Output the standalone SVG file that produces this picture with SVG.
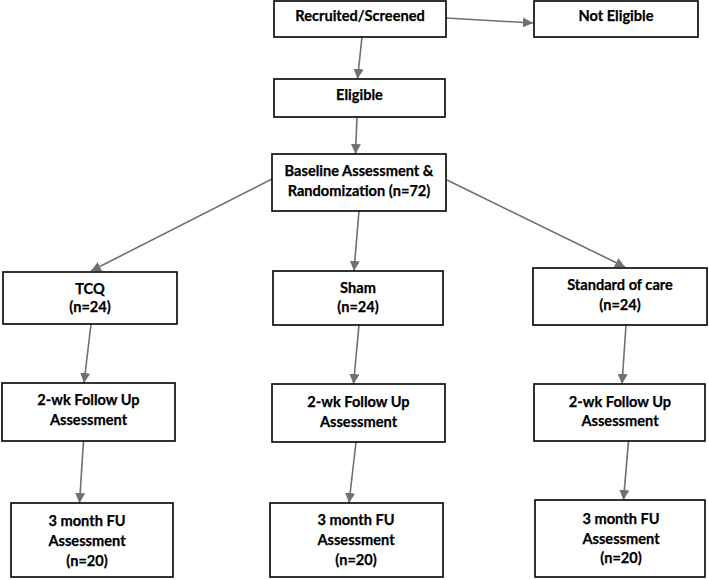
<svg xmlns="http://www.w3.org/2000/svg" width="709" height="580" viewBox="0 0 709 580">
<style>
.box{fill:#fff;stroke:#000;stroke-width:1.6}
.t{font-family:Lato,"Liberation Sans",sans-serif;font-weight:bold;font-size:14.6px;fill:#000;text-anchor:middle;stroke:#000;stroke-width:0.25}
.c{stroke:#707070;stroke-width:1.6;fill:none;marker-end:url(#ah)}
</style>
<defs>
<marker id="ah" markerUnits="userSpaceOnUse" markerWidth="10" markerHeight="10" refX="10" refY="5" orient="auto">
<path d="M0,0 L10,5 L0,10 z" fill="#707070"/>
</marker>
</defs>
<rect width="709" height="580" fill="#fff"/>
<g id="connectors">
<line class="c" x1="446" y1="18" x2="533" y2="23"/>
<line class="c" x1="362" y1="37" x2="357.5" y2="79"/>
<line class="c" x1="357" y1="117" x2="355.5" y2="154"/>
<line class="c" x1="272" y1="179" x2="91" y2="271"/>
<line class="c" x1="359" y1="211" x2="354" y2="271"/>
<line class="c" x1="447" y1="180" x2="625" y2="267"/>
<line class="c" x1="91" y1="324" x2="84" y2="383"/>
<line class="c" x1="359" y1="325" x2="353.5" y2="384"/>
<line class="c" x1="626" y1="325" x2="622" y2="384"/>
<line class="c" x1="83.5" y1="441" x2="79.5" y2="503"/>
<line class="c" x1="356" y1="442" x2="349" y2="503"/>
<line class="c" x1="628.5" y1="441" x2="623.5" y2="500"/>
</g>
<g id="recruited"><rect class="box" x="274" y="1" width="172" height="36"/><text class="t" x="360" y="21">Recruited/Screened</text></g>
<g id="not-eligible"><rect class="box" x="534" y="1" width="164" height="36"/><text class="t" x="616" y="21">Not Eligible</text></g>
<g id="eligible"><rect class="box" x="274" y="79" width="171" height="38"/><text class="t" x="359.5" y="100">Eligible</text></g>
<g id="baseline"><rect class="box" x="272" y="154" width="174" height="57"/><text class="t" x="359" y="175.5">Baseline Assessment &amp;</text><text class="t" x="359" y="195.5">Randomization (n=72)</text></g>
<g id="tcq"><rect class="box" x="3" y="272" width="174" height="52"/><text class="t" x="90" y="293.5">TCQ</text><text class="t" x="90" y="311.5">(n=24)</text></g>
<g id="sham"><rect class="box" x="273" y="271" width="170" height="54"/><text class="t" x="358" y="292.5">Sham</text><text class="t" x="358" y="311.5">(n=24)</text></g>
<g id="soc"><rect class="box" x="533" y="268" width="174" height="57"/><text class="t" x="620" y="289.5">Standard of care</text><text class="t" x="620" y="310">(n=24)</text></g>
<g id="tcq-2wk"><rect class="box" x="2" y="383" width="173" height="58"/><text class="t" x="88.5" y="405">2-wk Follow Up</text><text class="t" x="88.5" y="425">Assessment</text></g>
<g id="sham-2wk"><rect class="box" x="272" y="384" width="173" height="58"/><text class="t" x="358.5" y="406.5">2-wk Follow Up</text><text class="t" x="358.5" y="426.5">Assessment</text></g>
<g id="soc-2wk"><rect class="box" x="534" y="384" width="171" height="57"/><text class="t" x="620" y="406.5">2-wk Follow Up</text><text class="t" x="620" y="425.5">Assessment</text></g>
<g id="tcq-3m"><rect class="box" x="11" y="503" width="162" height="74"/><text class="t" x="87" y="526">3 month FU</text><text class="t" x="87" y="545.5">Assessment</text><text class="t" x="87" y="565.5">(n=20)</text></g>
<g id="sham-3m"><rect class="box" x="270" y="503" width="173" height="74"/><text class="t" x="356" y="525">3 month FU</text><text class="t" x="356" y="545">Assessment</text><text class="t" x="356" y="565">(n=20)</text></g>
<g id="soc-3m"><rect class="box" x="535" y="500" width="170" height="77"/><text class="t" x="621" y="523.5">3 month FU</text><text class="t" x="621" y="543.5">Assessment</text><text class="t" x="621" y="562.5">(n=20)</text></g>
</svg>
